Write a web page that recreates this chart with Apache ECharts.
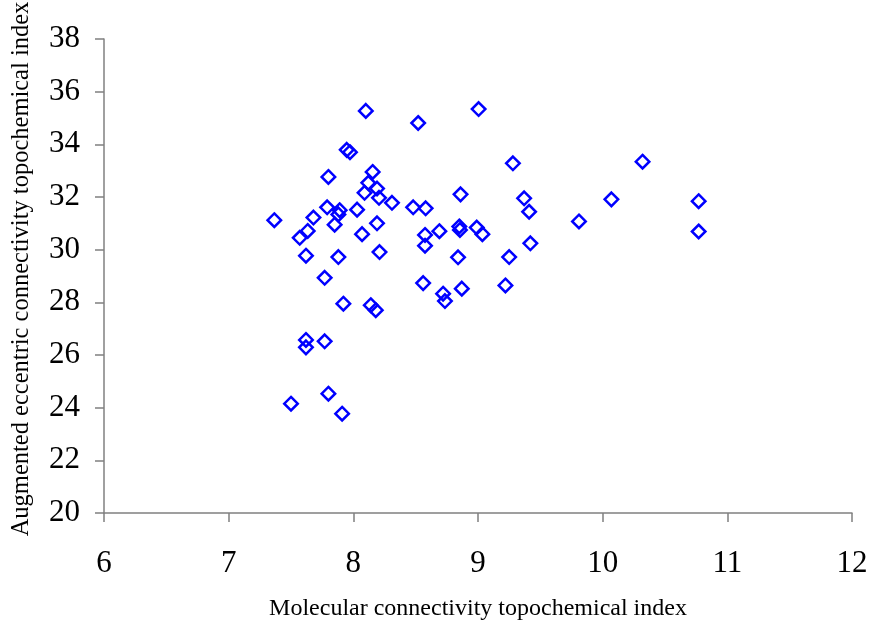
<!DOCTYPE html>
<html>
<head>
<meta charset="utf-8">
<script src="https://cdn.jsdelivr.net/npm/echarts@6/dist/echarts.min.js"></script>
<style>html,body{margin:0;padding:0;background:#fff;}#c{width:872px;height:626px;}</style>
</head>
<body>
<div id="c"></div>
<script>
var xTitle = "Molecular connectivity topochemical index";
var yTitle = "Augmented eccentric connectivity topochemical index";
var xValues = [8.10, 8.52, 9.005, 7.947, 7.973, 7.80, 8.155, 8.12, 8.19, 8.09,
  8.206, 8.31, 8.86, 7.79, 7.89, 7.88, 8.03, 8.48, 8.58, 7.366,
  7.68, 7.85, 8.19, 7.634, 7.57, 8.07, 8.575, 8.575, 8.69, 8.85,
  8.855, 8.99, 9.035, 7.62, 7.88, 8.21, 8.84, 7.77, 8.56, 8.72,
  8.735, 8.87, 7.92, 8.14, 8.18, 7.62, 7.62, 7.77, 7.80, 7.50,
  7.91, 9.28, 10.32, 9.37, 9.41, 10.07, 9.81, 10.77, 10.77, 9.42,
  9.25, 9.22];
var yValues = [35.27, 34.81, 35.34, 33.79, 33.70, 32.76, 32.95, 32.54, 32.32, 32.16,
  31.97, 31.78, 32.10, 31.61, 31.50, 31.34, 31.52, 31.61, 31.57, 31.12,
  31.22, 30.95, 31.00, 30.71, 30.45, 30.59, 30.56, 30.15, 30.70, 30.88,
  30.75, 30.84, 30.59, 29.77, 29.72, 29.91, 29.71, 28.93, 28.73, 28.33,
  28.05, 28.52, 27.95, 27.89, 27.70, 26.57, 26.29, 26.52, 24.53, 24.15,
  23.77, 33.28, 33.34, 31.95, 31.44, 31.91, 31.07, 31.84, 30.69, 30.24,
  29.72, 28.64];
var points = xValues.map(function (x, i) { return [x, yValues[i]]; });

var font = "'Liberation Serif', 'Times New Roman', serif";
var chart = echarts.init(document.getElementById('c'), null, {renderer: 'canvas'});
chart.setOption({
  backgroundColor: '#ffffff',
  animation: false,
  grid: {left: 104, right: 20, top: 39, bottom: 109, containLabel: false},
  xAxis: {
    type: 'value', min: 6, max: 12, interval: 1,
    name: xTitle, nameLocation: 'middle', nameGap: 84,
    nameTextStyle: {fontFamily: font, fontSize: 24, color: '#000'},
    axisLine: {show: true, onZero: false, lineStyle: {color: '#808080', width: 1.5}},
    axisTick: {show: true, length: 9, lineStyle: {color: '#808080', width: 1.5}},
    axisLabel: {fontFamily: font, fontSize: 31, color: '#000', margin: 35},
    splitLine: {show: false}
  },
  yAxis: {
    type: 'value', min: 20, max: 38, interval: 2,
    name: yTitle, nameLocation: 'middle', nameGap: 70, nameRotate: 90,
    nameTextStyle: {fontFamily: font, fontSize: 24.5, color: '#000', padding: [0, 0, 0, 14]},
    axisLine: {show: true, onZero: false, lineStyle: {color: '#808080', width: 1.5}},
    axisTick: {show: true, length: 9, lineStyle: {color: '#808080', width: 1.5}},
    axisLabel: {fontFamily: font, fontSize: 31, color: '#000', margin: 24},
    splitLine: {show: false}
  },
  series: [{
    type: 'scatter',
    data: points,
    symbol: 'diamond',
    symbolSize: 13.5,
    itemStyle: {color: 'rgba(0,0,0,0)', borderColor: '#0000ff', borderWidth: 2.5, opacity: 1}
  }]
});
</script>
</body>
</html>
